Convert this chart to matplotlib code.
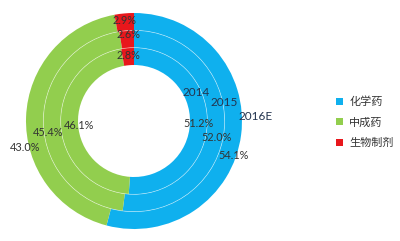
import numpy as np
import matplotlib
matplotlib.use("Agg")
import matplotlib.pyplot as plt
from matplotlib.patches import Circle

# data
years = ["2014", "2015", "2016E"]
categories = ["化学药", "中成药", "生物制剂"]
chem = [51.2, 52.0, 54.1]
tcm = [46.1, 45.4, 43.0]
bio = [2.8, 2.6, 2.9]

COLORS = ["#0FB0EE", "#92CE4E", "#E8171C"]
TXT = "#333333"

plt.rcParams["font.family"] = ["Noto Sans CJK SC", "DejaVu Sans"]

fig = plt.figure(figsize=(4.0, 2.41), dpi=100)
ax = fig.add_axes([0, 0, 1, 1])

# 1 data unit == 1 pixel, donut centre at (134, 121) from top-left
cx, cy = 134, 121
outer, hole = 108, 56
width = (outer - hole) / 3
radii = [hole + width * (i + 1) for i in range(3)]

# small nudges (px, y up) so labels sit where the original put them
nudge = {
    (0, 0): (0, 0), (1, 0): (1, -11), (2, 0): (1, -22),
    (0, 1): (10, -1), (1, 1): (-4, -10), (2, 1): (-10, -30),
    (0, 2): (0, 1), (1, 2): (1, 5), (2, 2): (0, 2),
}

legend_handles = None
for i, yr in enumerate(years):
    vals = [chem[i], tcm[i], bio[i]]
    wedges, _ = ax.pie(vals, radius=radii[i], colors=COLORS, startangle=90,
                       counterclock=False, center=(0, 0),
                       wedgeprops=dict(width=width, linewidth=0))
    if legend_handles is None:
        legend_handles = wedges
    tot = sum(vals)
    cum = 0
    rmid = radii[i] - width / 2
    for j, v in enumerate(vals):
        theta = np.deg2rad(90 - 360 * (cum + v / 2) / tot)
        cum += v
        dx, dy = nudge[(i, j)]
        ax.text(rmid * np.cos(theta) + dx, rmid * np.sin(theta) + dy,
                f"{v:.1f}%", ha="center", va="center", fontsize=7.8,
                color=TXT, family=["Lato", "DejaVu Sans"])

# faint white separators between rings
for r in radii[:-1]:
    ax.add_patch(Circle((0, 0), r, fill=False, ec="white", lw=0.5, alpha=0.55))

# series names
year_pos = [(62, 29), (90, 19), (122, 4)]
for yr, (x, y) in zip(years, year_pos):
    ax.text(x, y, yr, ha="center", va="center", fontsize=8.5,
            color="#23344F", family=["Lato", "DejaVu Sans"])

ax.set_xlim(-cx, 400 - cx)
ax.set_ylim(-(241 - cy), cy)
ax.set_aspect("equal")
ax.axis("off")

fig.legend(legend_handles, categories, loc="upper left",
           bbox_to_anchor=(0.84, 0.60), frameon=False, fontsize=8,
           handlelength=0.6, handleheight=0.6, handletextpad=0.6,
           labelspacing=0.95, borderpad=0, borderaxespad=0,
           labelcolor=TXT)

fig.savefig("out.png", dpi=100)
